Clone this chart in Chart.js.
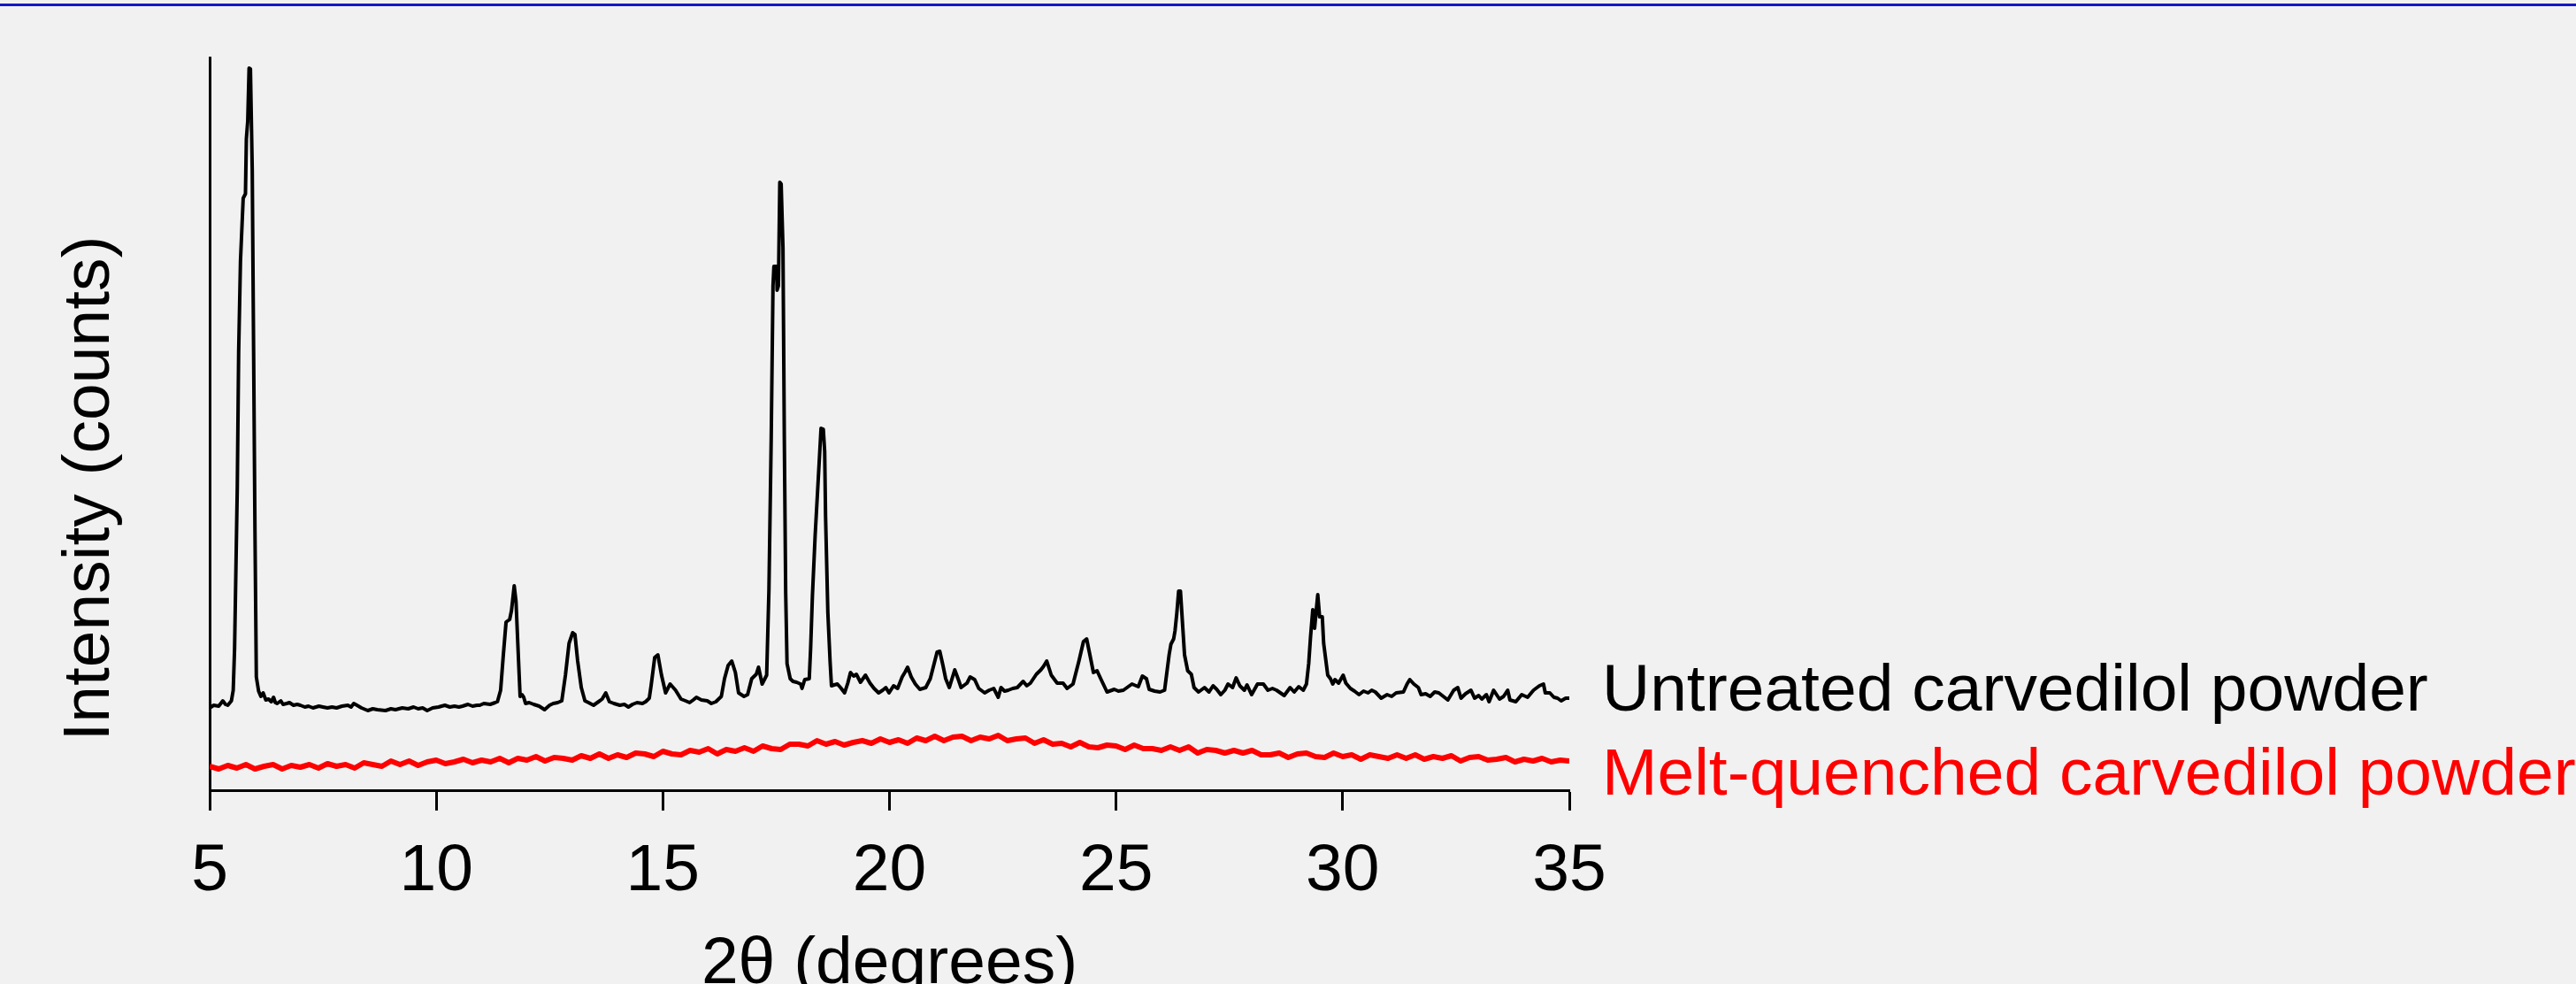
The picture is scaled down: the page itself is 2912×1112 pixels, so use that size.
<!DOCTYPE html>
<html>
<head>
<meta charset="utf-8">
<script src="https://cdn.jsdelivr.net/npm/chart.js@4"></script>
<style>
  html, body { margin: 0; padding: 0; background: #f1f1f1; }
  #topRule { position: absolute; left: 0; top: 4px; width: 2912px; height: 3px; background: #1616c4; }
  canvas { display: block; }
</style>
</head>
<body>
<div id="topRule"></div>
<canvas id="xrdChart" width="2912" height="1112"></canvas>
<script>
// Axis and label text
var xTitle = "2θ (degrees)";
var yTitle = "Intensity (counts)";
var seriesNames = ["Untreated carvedilol powder", "Melt-quenched carvedilol powder"];
var xTicks = [5, 10, 15, 20, 25, 30, 35];

// Untreated carvedilol powder
var untreatedAngle = [
  5.00, 5.09, 5.20, 5.29, 5.35, 5.40, 5.48, 5.52, 5.55, 5.61, 5.64, 5.68, 5.74, 5.79, 5.81, 5.84, 5.87, 5.90,
  5.94, 5.97, 6.00, 6.03, 6.08, 6.13, 6.18, 6.24, 6.30, 6.36, 6.41, 6.45, 6.49, 6.57, 6.62, 6.70, 6.76, 6.85,
  6.93, 7.00, 7.10, 7.18, 7.28, 7.41, 7.50, 7.60, 7.70, 7.80, 7.92, 8.05, 8.12, 8.18, 8.25, 8.35, 8.49, 8.60,
  8.70, 8.88, 9.00, 9.10, 9.25, 9.38, 9.50, 9.60, 9.70, 9.80, 9.92, 10.05, 10.19, 10.30, 10.40, 10.50, 10.58,
  10.70, 10.80, 10.90, 10.96, 11.05, 11.19, 11.30, 11.35, 11.42, 11.48, 11.54, 11.62, 11.66, 11.72, 11.76,
  11.81, 11.85, 11.89, 11.93, 11.97, 12.05, 12.15, 12.27, 12.39, 12.50, 12.58, 12.68, 12.77, 12.85, 12.93,
  13.01, 13.06, 13.12, 13.20, 13.28, 13.36, 13.47, 13.58, 13.66, 13.74, 13.82, 13.92, 14.05, 14.15, 14.24,
  14.33, 14.43, 14.55, 14.62, 14.70, 14.74, 14.82, 14.89, 14.97, 15.06, 15.16, 15.28, 15.40, 15.50, 15.59,
  15.67, 15.74, 15.85, 15.98, 16.07, 16.17, 16.29, 16.36, 16.44, 16.52, 16.60, 16.67, 16.79, 16.87, 16.96,
  17.06, 17.11, 17.19, 17.29, 17.34, 17.39, 17.43, 17.45, 17.51, 17.52, 17.55, 17.58, 17.61, 17.65, 17.68,
  17.71, 17.74, 17.81, 17.87, 17.95, 18.04, 18.07, 18.13, 18.23, 18.26, 18.30, 18.36, 18.43, 18.49, 18.54,
  18.57, 18.59, 18.64, 18.69, 18.72, 18.78, 18.85, 18.92, 19.01, 19.08, 19.14, 19.21, 19.27, 19.36, 19.47,
  19.57, 19.66, 19.76, 19.85, 19.92, 19.99, 20.09, 20.18, 20.28, 20.35, 20.40, 20.48, 20.57, 20.67, 20.80,
  20.90, 21.00, 21.05, 21.11, 21.18, 21.24, 21.32, 21.44, 21.52, 21.58, 21.71, 21.78, 21.88, 21.97, 22.10,
  22.20, 22.30, 22.40, 22.46, 22.54, 22.62, 22.72, 22.82, 22.95, 23.03, 23.11, 23.24, 23.34, 23.40, 23.47,
  23.57, 23.70, 23.83, 23.92, 24.05, 24.18, 24.28, 24.35, 24.41, 24.50, 24.58, 24.67, 24.80, 24.96, 25.05,
  25.16, 25.35, 25.49, 25.58, 25.67, 25.73, 25.85, 25.97, 26.07, 26.12, 26.17, 26.21, 26.27, 26.30, 26.34,
  26.38, 26.42, 26.46, 26.51, 26.58, 26.66, 26.72, 26.82, 26.95, 27.05, 27.14, 27.22, 27.31, 27.40, 27.47,
  27.57, 27.65, 27.73, 27.83, 27.89, 27.99, 28.12, 28.25, 28.35, 28.45, 28.54, 28.71, 28.84, 28.93, 29.03,
  29.13, 29.20, 29.25, 29.29, 29.34, 29.38, 29.42, 29.45, 29.49, 29.55, 29.58, 29.63, 29.67, 29.73, 29.78,
  29.83, 29.91, 30.01, 30.07, 30.17, 30.26, 30.36, 30.46, 30.56, 30.64, 30.72, 30.85, 30.98, 31.08, 31.18,
  31.34, 31.42, 31.48, 31.57, 31.67, 31.73, 31.83, 31.93, 32.03, 32.12, 32.22, 32.32, 32.45, 32.54, 32.61,
  32.71, 32.83, 32.91, 33.00, 33.07, 33.17, 33.23, 33.33, 33.46, 33.55, 33.64, 33.69, 33.82, 33.95, 34.08,
  34.21, 34.34, 34.43, 34.47, 34.57, 34.66, 34.74, 34.82, 34.92, 35.00
];
var untreatedCounts = [
  93, 96, 95, 101, 97, 96, 101, 113, 160, 343, 496, 598, 669, 674, 736, 756, 816, 815,
  700, 496, 292, 128, 112, 106, 110, 102, 103, 100, 105, 99, 98, 101, 97, 98, 99, 96,
  97, 96, 94, 95, 93, 95, 94, 93, 94, 93, 95, 96, 94, 98, 96, 93, 90, 92,
  91, 90, 92, 91, 93, 92, 94, 92, 93, 90, 93, 94, 96, 94, 95, 94, 95,
  97, 95, 96, 96, 98, 97, 99, 100, 113, 153, 190, 193, 203, 231, 213,
  153, 106, 108, 105, 98, 99, 97, 95, 91, 96, 98, 99, 101, 130, 166,
  178, 176, 146, 116, 101, 99, 96, 100, 103, 110, 100, 98, 96, 97, 94,
  97, 99, 98, 100, 104, 118, 150, 153, 130, 110, 120, 113, 103, 101, 99,
  102, 105, 102, 101, 98, 100, 106, 126, 141, 146, 133, 110, 106, 108, 126,
  131, 139, 120, 130, 226, 396, 570, 592, 592, 565, 570, 687, 685, 613, 396,
  223, 143, 126, 123, 122, 120, 115, 125, 126, 160, 220, 288, 353, 409, 408,
  383, 309, 201, 145, 118, 119, 120, 116, 110, 121, 133, 129, 131, 122, 130,
  121, 115, 110, 113, 116, 110, 118, 115, 128, 134, 139, 128, 120, 114, 116,
  126, 146, 156, 157, 141, 126, 116, 136, 125, 116, 121, 128, 125, 115, 110,
  113, 115, 105, 116, 112, 113, 115, 116, 123, 118, 121, 131, 136, 140, 146,
  130, 121, 121, 115, 120, 146, 168, 171, 156, 133, 135, 125, 111, 114, 112,
  113, 120, 117, 129, 126, 114, 112, 111, 113, 133, 153, 165, 171, 180, 200,
  225, 225, 193, 153, 135, 131, 116, 111, 116, 111, 118, 114, 108, 113, 120,
  116, 127, 118, 113, 119, 108, 120, 120, 113, 115, 113, 107, 116, 111, 117,
  113, 120, 143, 173, 204, 183, 205, 221, 196, 196, 166, 146, 130, 126, 120,
  125, 121, 130, 121, 115, 112, 108, 112, 110, 113, 111, 104, 108, 106, 110,
  111, 120, 125, 120, 116, 108, 109, 106, 111, 110, 106, 102, 113, 116, 104,
  109, 113, 104, 107, 103, 108, 100, 113, 103, 106, 113, 102, 100, 108, 105,
  113, 118, 120, 110, 110, 105, 104, 101, 104, 104
];

// Melt-quenched carvedilol powder (amorphous halo)
var quenchedAngle = [
  5.0, 5.2, 5.4, 5.6, 5.8, 6.0, 6.2, 6.4, 6.6, 6.8, 7.0, 7.2, 7.4, 7.6, 7.8, 8.0, 8.2, 8.4, 8.6, 8.8,
  9.0, 9.2, 9.4, 9.6, 9.8, 10.0, 10.2, 10.4, 10.6, 10.8, 11.0, 11.2, 11.4, 11.6, 11.8, 12.0, 12.2, 12.4, 12.6, 12.8,
  13.0, 13.2, 13.4, 13.6, 13.8, 14.0, 14.2, 14.4, 14.6, 14.8, 15.0, 15.2, 15.4, 15.6, 15.8, 16.0, 16.2, 16.4, 16.6, 16.8,
  17.0, 17.2, 17.4, 17.6, 17.8, 18.0, 18.2, 18.4, 18.6, 18.8, 19.0, 19.2, 19.4, 19.6, 19.8, 20.0, 20.2, 20.4, 20.6, 20.8,
  21.0, 21.2, 21.4, 21.6, 21.8, 22.0, 22.2, 22.4, 22.6, 22.8, 23.0, 23.2, 23.4, 23.6, 23.8, 24.0, 24.2, 24.4, 24.6, 24.8,
  25.0, 25.2, 25.4, 25.6, 25.8, 26.0, 26.2, 26.4, 26.6, 26.8, 27.0, 27.2, 27.4, 27.6, 27.8, 28.0, 28.2, 28.4, 28.6, 28.8,
  29.0, 29.2, 29.4, 29.6, 29.8, 30.0, 30.2, 30.4, 30.6, 30.8, 31.0, 31.2, 31.4, 31.6, 31.8, 32.0, 32.2, 32.4, 32.6, 32.8,
  33.0, 33.2, 33.4, 33.6, 33.8, 34.0, 34.2, 34.4, 34.6, 34.8, 35.0
];
var quenchedCounts = [
  27, 24, 28, 25, 29, 24, 27, 29, 24, 28, 26, 29, 25, 30, 27, 29, 25, 31, 29, 27,
  33, 29, 33, 28, 32, 34, 30, 32, 35, 31, 34, 32, 36, 31, 36, 34, 38, 33, 37, 36,
  34, 39, 36, 41, 36, 40, 37, 42, 41, 38, 44, 41, 40, 45, 43, 47, 41, 46, 44, 48,
  44, 50, 47, 46, 52, 52, 50, 56, 52, 55, 51, 54, 56, 53, 58, 54, 57, 53, 59, 56,
  61, 56, 60, 61, 56, 60, 58, 62, 56, 58, 59, 53, 57, 52, 53, 49, 54, 49, 48, 51,
  50, 46, 51, 47, 47, 45, 49, 45, 49, 42, 46, 45, 42, 45, 42, 45, 40, 40, 42, 37,
  41, 42, 38, 37, 42, 38, 40, 35, 40, 38, 36, 40, 36, 40, 35, 38, 36, 39, 33, 37,
  38, 34, 35, 37, 32, 35, 33, 36, 32, 34, 33
];

function toPoints(xs, ys) {
  return xs.map(function (x, i) { return { x: x, y: ys[i] }; });
}

var fontFamily = '"Liberation Sans", Arial, sans-serif';

// Draws the axis titles and the series names beside the traces
var textLabels = {
  id: 'textLabels',
  afterDraw: function (chart) {
    var ctx = chart.ctx;
    var area = chart.chartArea;
    ctx.save();
    ctx.font = '75px ' + fontFamily;
    ctx.textBaseline = 'alphabetic';
    ctx.textAlign = 'left';
    ctx.fillStyle = '#000000';
    ctx.fillText(seriesNames[0], area.right + 37, area.bottom - 90);
    ctx.fillStyle = '#ff0000';
    ctx.fillText(seriesNames[1], area.right + 37, area.bottom + 5);
    ctx.fillStyle = '#000000';
    ctx.textAlign = 'center';
    ctx.fillText(xTitle, (area.left + area.right) / 2, area.bottom + 218);
    ctx.translate(area.left - 114, area.top + 487);
    ctx.rotate(-Math.PI / 2);
    ctx.fillText(yTitle, 0, 0);
    ctx.restore();
  }
};

var ctx = document.getElementById('xrdChart').getContext('2d');
var chart = new Chart(ctx, {
  type: 'line',
  data: {
    datasets: [
      {
        label: seriesNames[0],
        data: toPoints(untreatedAngle, untreatedCounts),
        borderColor: '#000000',
        borderWidth: 4,
        pointRadius: 0,
        tension: 0,
        borderJoinStyle: 'round'
      },
      {
        label: seriesNames[1],
        data: toPoints(quenchedAngle, quenchedCounts),
        borderColor: '#ff0000',
        borderWidth: 6,
        pointRadius: 0,
        tension: 0,
        borderJoinStyle: 'round'
      }
    ]
  },
  options: {
    responsive: false,
    devicePixelRatio: 1,
    animation: false,
    layout: { padding: { left: 229, right: 1138, top: 65, bottom: 0 } },
    plugins: { legend: { display: false }, tooltip: { enabled: false } },
    scales: {
      x: {
        type: 'linear',
        min: 5,
        max: 35,
        afterBuildTicks: function (scale) {
          scale.ticks = xTicks.map(function (v) { return { value: v }; });
        },
        afterFit: function (scale) { scale.height = 219; },
        ticks: { color: '#000000', padding: 24, maxRotation: 0, font: { family: fontFamily, size: 75 } },
        grid: { drawOnChartArea: false, drawTicks: true, tickLength: 23, tickWidth: 3, tickColor: '#000000' },
        border: { display: true, color: '#000000', width: 3 }
      },
      y: {
        min: 0,
        max: 828,
        ticks: { display: false },
        grid: { display: false },
        border: { display: true, color: '#000000', width: 3 }
      }
    }
  },
  plugins: [textLabels]
});
</script>
</body>
</html>
